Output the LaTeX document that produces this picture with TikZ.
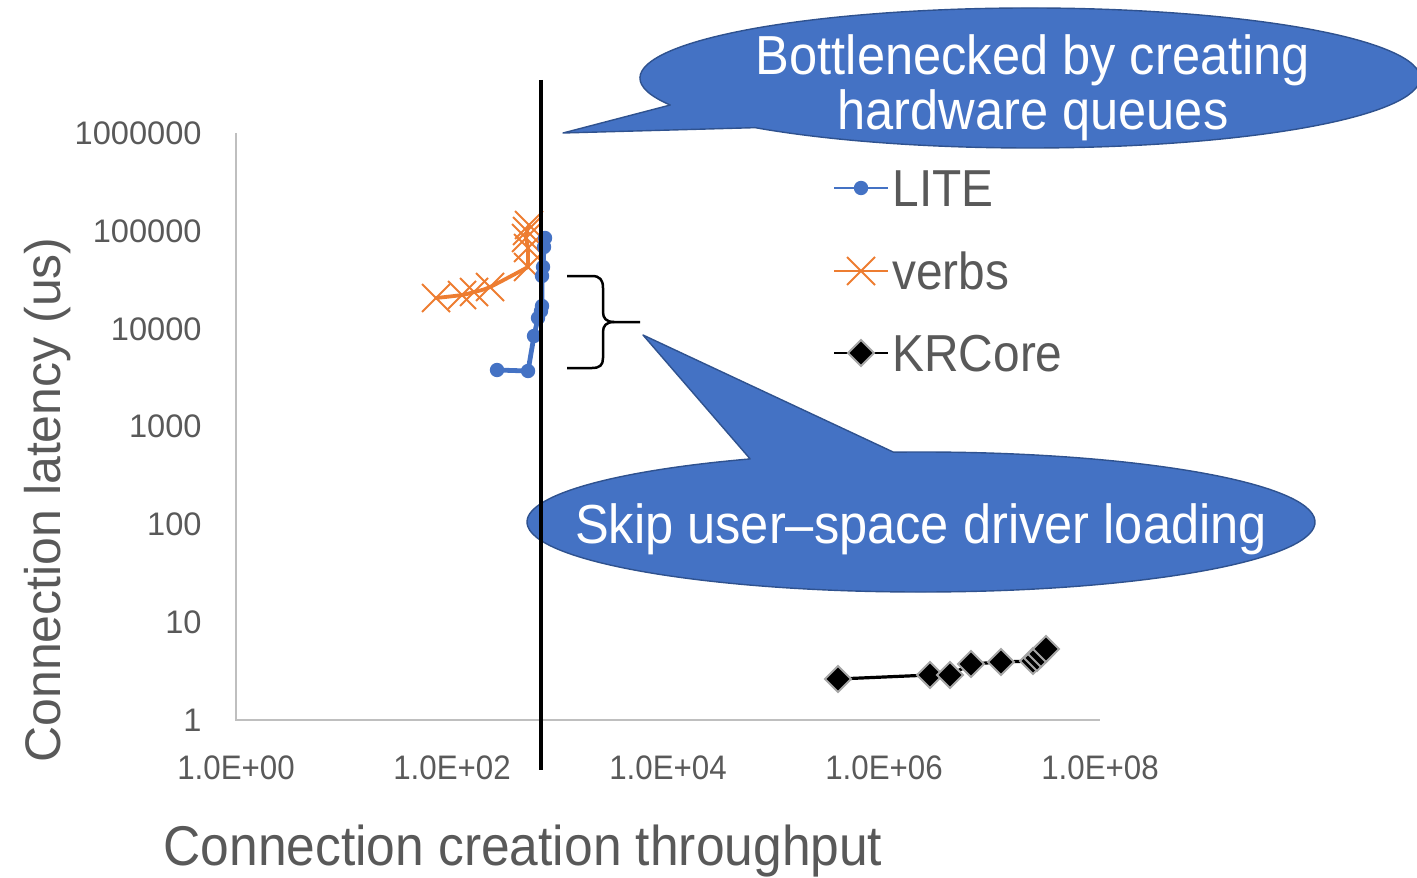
\documentclass[tikz,border=0pt]{standalone}
\usepackage{fontspec}
\setmainfont{Liberation Sans}
\newfontfamily\narrowfont[FakeStretch=0.92]{Liberation Sans}
\definecolor{axisgray}{HTML}{BFBFBF}
\definecolor{labelgray}{HTML}{595959}
\definecolor{litecol}{HTML}{4472C4}
\definecolor{verbscol}{HTML}{ED7D31}
\definecolor{calloutfill}{HTML}{4472C4}
\definecolor{calloutedge}{HTML}{2F528F}
\definecolor{diamondedge}{HTML}{A6A6A6}
\tikzset{
  axisline/.style={draw=axisgray, line width=1pt},
  ticky/.style={font=\fontsize{16.3}{19}\selectfont, text=labelgray, anchor=east, inner sep=0pt},
  tickx/.style={font=\narrowfont\fontsize{17}{20}\selectfont, text=labelgray, inner sep=0pt},
  axistitle/.style={text=labelgray, anchor=base, inner sep=0pt},
  legendtext/.style={font=\narrowfont\fontsize{26}{30}\selectfont, text=labelgray, anchor=base west, inner sep=0pt},
  calloutbody/.style={fill=calloutfill, draw=calloutedge, line width=0.7pt, line join=round},
  callouttext/.style={font=\narrowfont\fontsize{27.5}{30}\selectfont, text=white, anchor=base, inner sep=0pt},
  liteline/.style={draw=litecol, line width=2.4pt, line join=round, line cap=round},
  verbsline/.style={draw=verbscol, line width=1.9pt, line join=round, line cap=round},
  krline/.style={draw=black, line width=1.6pt, line join=round},
  litedot/.pic={\fill[litecol] (0,0) circle[radius=7.2];},
  verbscross/.pic={\draw[verbscol, line width=1pt] (-14,-14) -- (14,14) (-14,14) -- (14,-14);},
  krdiamond/.pic={\filldraw[fill=black, draw=diamondedge, line width=1pt] (0,-13) -- (13,0) -- (0,13) -- (-13,0) -- cycle;},
}
\begin{document}
\begin{tikzpicture}[x=0.5pt, y=-0.5pt]
\useasboundingbox (0,0) rectangle (1417,877);

% ---------- axes ----------
\coordinate (origin) at (236,720);
\coordinate (ytop) at (236,133);
\coordinate (xend) at (1100,720);
\draw[axisline] (ytop) -- (origin) -- (xend);

% y tick labels (log scale, one decade per 97.8 px)
\node[ticky] (y0) at (202,720) {1};
\node[ticky] (y1) at (202,622) {10};
\node[ticky] (y2) at (202,524) {100};
\node[ticky] (y3) at (202,426) {1000};
\node[ticky] (y4) at (202,329) {10000};
\node[ticky] (y5) at (202,231) {100000};
\node[ticky] (y6) at (202,133) {1000000};

% x tick labels (log scale, two decades per 216 px)
\node[tickx] (x0) at (236,768) {1.0E+00};
\node[tickx] (x2) at (452,768) {1.0E+02};
\node[tickx] (x4) at (668,768) {1.0E+04};
\node[tickx] (x6) at (884,768) {1.0E+06};
\node[tickx] (x8) at (1100,768) {1.0E+08};

% axis titles
\node[axistitle, font=\fontsize{25}{28}\selectfont, rotate=90] (ytitle) at (60,500) {Connection latency (us)};
\node[axistitle, font=\narrowfont\fontsize{28}{32}\selectfont] (xtitle) at (523,865) {Connection creation throughput};

% ---------- series: verbs ----------
\coordinate (V1) at (436,298);
\coordinate (V2) at (462,295);
\coordinate (V3) at (474,292);
\coordinate (V4) at (490,287);
\coordinate (V5) at (528,267);
\coordinate (V6) at (528,248);
\coordinate (V7) at (526,238);
\coordinate (V8) at (527,231);
\coordinate (V9) at (529,225);
\draw[verbsline] plot[smooth, tension=0.5] coordinates {(V1) (V2) (V3) (V4) (V5)} -- (V6) -- (V7) -- (V8) -- (V9);
\foreach \p in {V1,V2,V3,V4,V5,V6,V7,V8,V9} \pic at (\p) {verbscross};

% ---------- series: LITE ----------
\coordinate (L1) at (497,370);
\coordinate (L2) at (528,371);
\coordinate (L3) at (534,336);
\coordinate (L4) at (538,318);
\coordinate (L5) at (541,311);
\coordinate (L6) at (542,306);
\coordinate (L7) at (542,276);
\coordinate (L8) at (543,267);
\coordinate (L9) at (544,247);
\coordinate (L10) at (545,238);
\draw[liteline] (L1) -- (L2) -- (L3) -- (L4) -- (L5) -- (L6) -- (L7) -- (L8) -- (L9) -- (L10);
\foreach \p in {L1,L2,L3,L4,L5,L6,L7,L8,L9,L10} \pic at (\p) {litedot};

% ---------- series: KRCore ----------
\coordinate (K1) at (838,679);
\coordinate (K2) at (930,675);
\coordinate (K3) at (950,675);
\coordinate (K4) at (971,664);
\coordinate (K5) at (1001,662);
\coordinate (K6) at (1033,661);
\coordinate (K7) at (1037,658);
\coordinate (K8) at (1041,654);
\coordinate (K9) at (1046,649);
\draw[krline] (K1) -- (K2) -- (K3) -- (K4) -- (K5) -- (K6) -- (K7) -- (K8) -- (K9);
\foreach \p in {K1,K2,K3,K4,K5,K6,K7,K8,K9} \pic at (\p) {krdiamond};

% ---------- legend ----------
\coordinate (legA1) at (834,188); \coordinate (legA2) at (888,188);
\draw[liteline, line width=1.4pt, line cap=butt] (legA1) -- (legA2);
\pic at (861,188) {litedot};
\node[legendtext] (legLITE) at (892,206) {LITE};

\coordinate (legB1) at (834,271); \coordinate (legB2) at (888,271);
\draw[verbsline, line width=1.4pt, line cap=butt] (legB1) -- (legB2);
\pic at (861,271) {verbscross};
\node[legendtext] (legverbs) at (892,289) {verbs};

\coordinate (legC1) at (834,353); \coordinate (legC2) at (888,353);
\draw[krline, line width=1.4pt] (legC1) -- (legC2);
\pic at (861,353) {krdiamond};
\node[legendtext] (legKR) at (892,371) {KRCore};

% ---------- callout: hardware queues ----------
\coordinate (tipA) at (563,133);
\filldraw[calloutbody] (tipA) -- ({1030+390*cos(157.3)},{78+70*sin(157.3)})
  arc[start angle=157.3, end angle=494.8, x radius=390, y radius=70] -- cycle;
\node[callouttext] (txtA1) at (1033,75) {Bottlenecked by creating};
\node[callouttext] (txtA2) at (1033,130) {hardware queues};

% ---------- callout: driver loading ----------
\coordinate (tipB) at (643,335);
\filldraw[calloutbody] (tipB) -- ({921+394*cos(266)},{522+70*sin(266)})
  arc[start angle=266, end angle=604.3, x radius=394, y radius=70] -- cycle;
\node[callouttext] (txtB) at (921,543) {Skip user–space driver loading};

% ---------- brace ----------
\draw[line width=1.25pt, line join=round]
  (567,276) -- (592,276) .. controls (600,276) and (603,280) .. (603,288)
  -- (603,312) .. controls (603,318) and (606,322) .. (614,322) -- (640,322);
\draw[line width=1.25pt, line join=round]
  (614,322) .. controls (606,322) and (603,326) .. (603,332)
  -- (603,358) .. controls (603,365) and (600,368) .. (592,368) -- (567,368);

% ---------- vertical marker ----------
\coordinate (vtop) at (541,80);
\coordinate (vbot) at (541,770);
\draw[line width=1.6pt] (vtop) -- (vbot);
\end{tikzpicture}
\end{document}
